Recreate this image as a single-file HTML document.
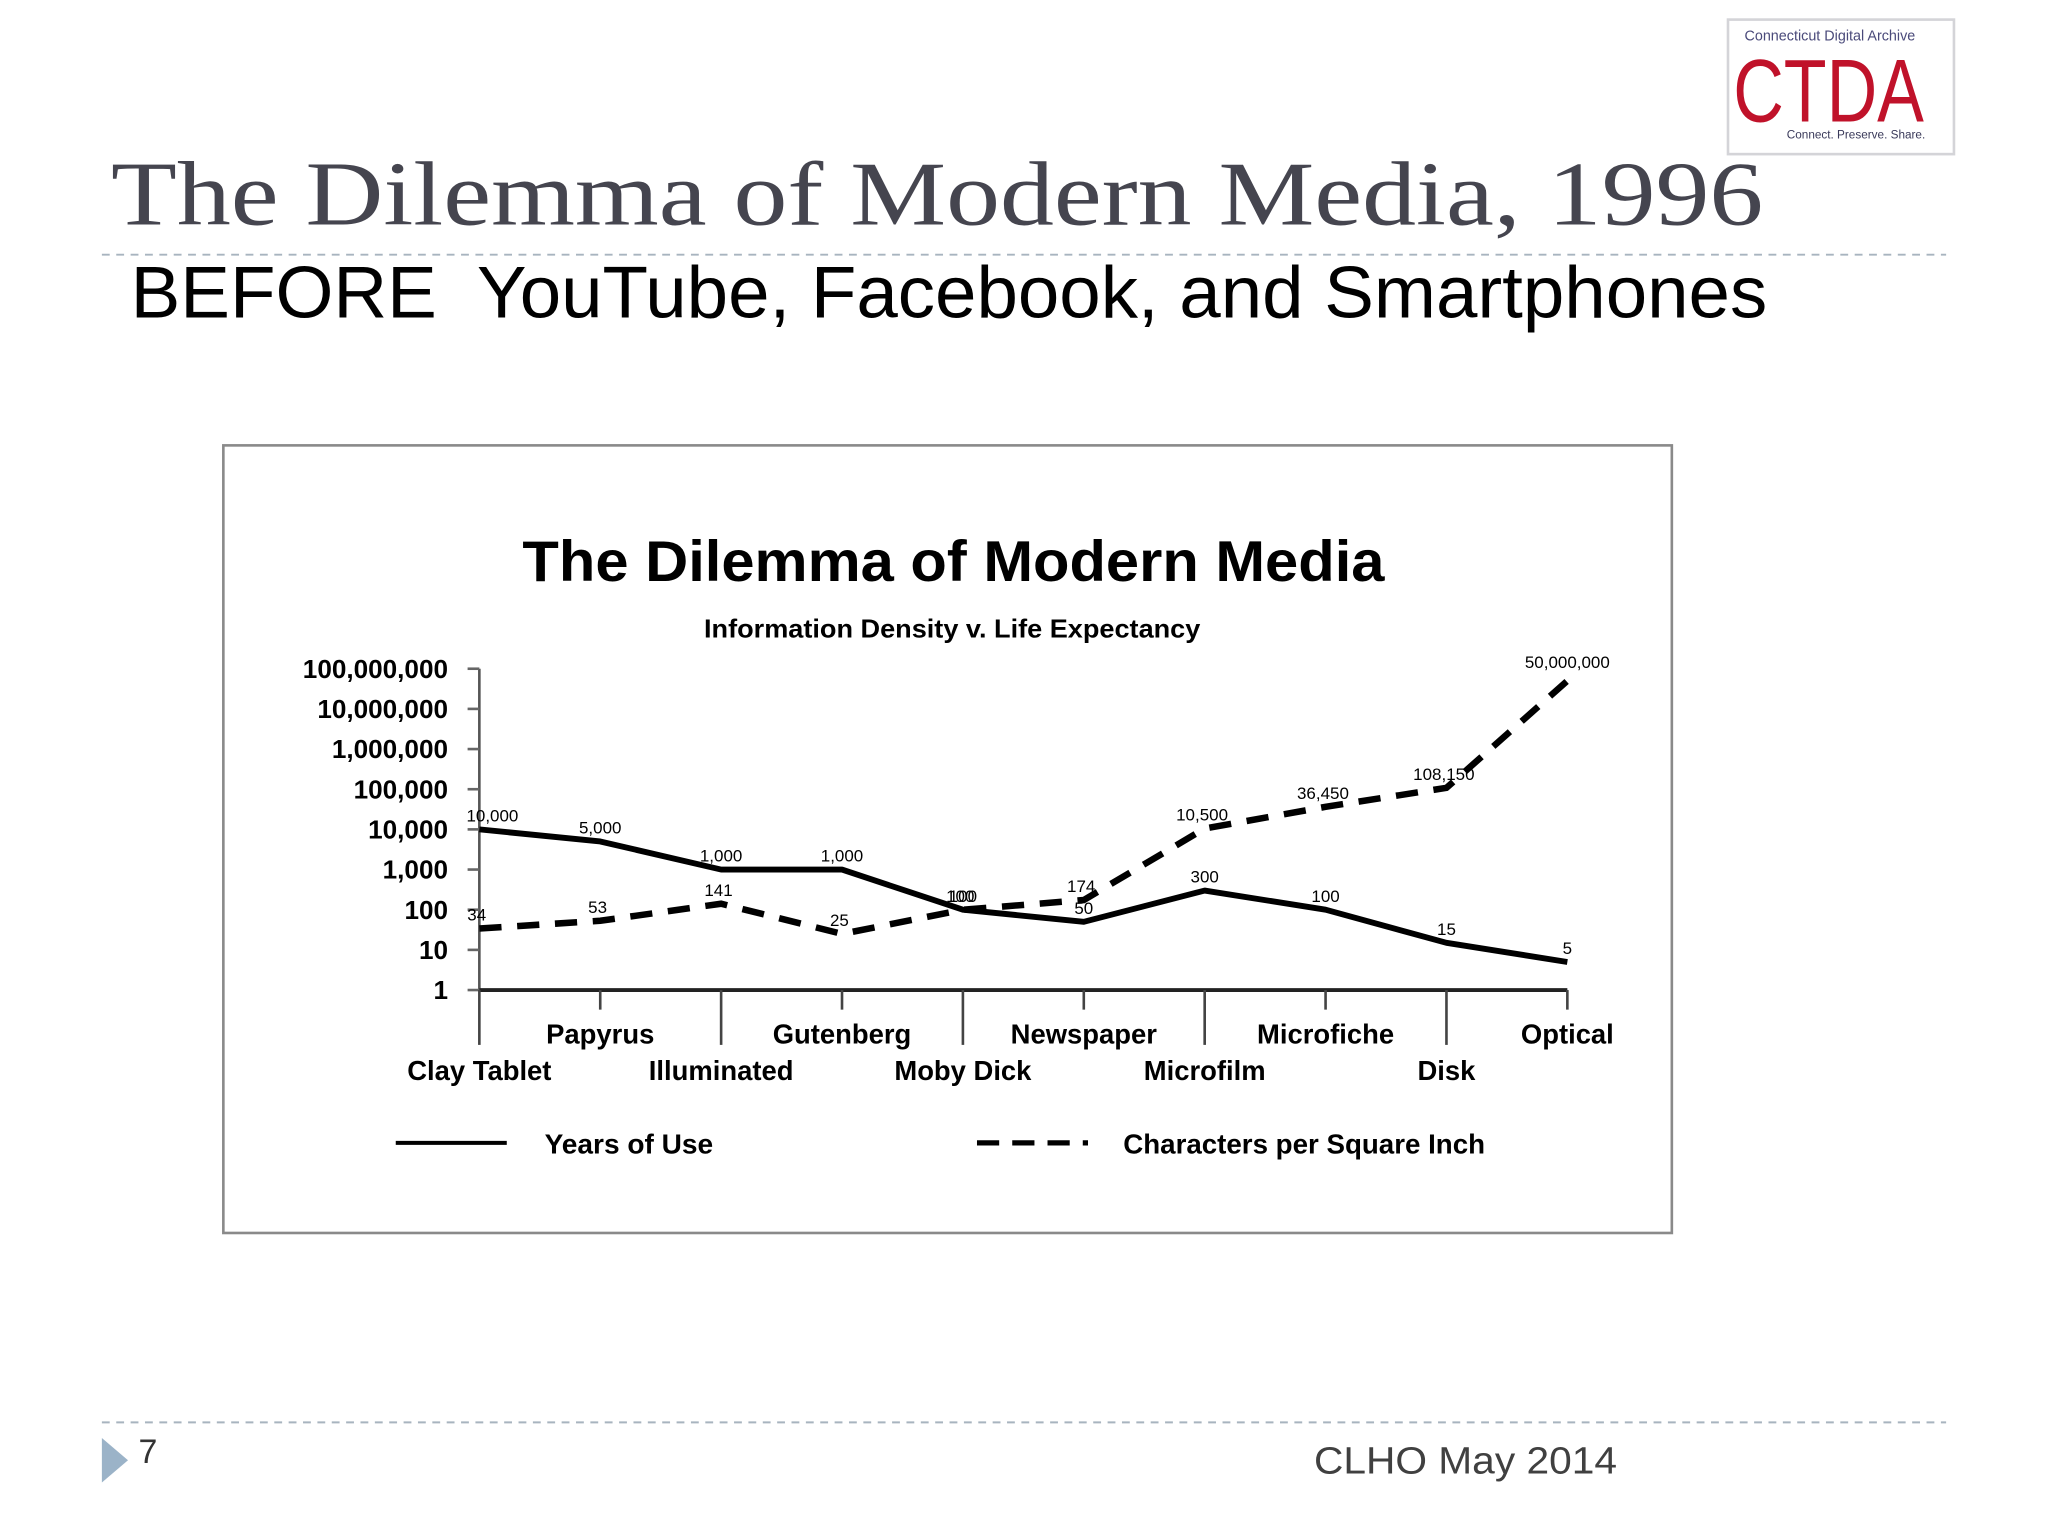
<!DOCTYPE html>
<html><head><meta charset="utf-8"><style>
html,body{margin:0;padding:0;background:#fff;}
svg{display:block;}
</style></head><body>
<svg id="slide" width="2048" height="1536" viewBox="0 0 1568 1176" xmlns="http://www.w3.org/2000/svg">
<rect width="1568" height="1176" fill="#fff"/>
<g>
  <rect x="1323" y="15" width="173" height="103" fill="#fff" stroke="#d4d4d8" stroke-width="2"/>
  <text x="1401" y="31" text-anchor="middle" font-family="Liberation Sans, sans-serif" font-size="11" fill="#4a4a7a">Connecticut Digital Archive</text>
  <text x="1400" y="93" text-anchor="middle" font-family="Liberation Sans, sans-serif" font-size="68" fill="#c0122a" textLength="146" lengthAdjust="spacingAndGlyphs">CTDA</text>
  <text x="1421" y="106" text-anchor="middle" font-family="Liberation Sans, sans-serif" font-size="9" fill="#3a3a5a">Connect. Preserve. Share.</text>
</g>
<text x="85" y="172" font-family="Liberation Serif, serif" font-size="70" fill="#45454f" textLength="1265" lengthAdjust="spacingAndGlyphs">The Dilemma of Modern Media, 1996</text>
<line x1="78" y1="195" x2="1490" y2="195" stroke="#a8b4bf" stroke-width="1.5" stroke-dasharray="6,5"/>
<text x="100" y="243" font-family="Liberation Sans, sans-serif" font-size="56" fill="#000" textLength="1253" lengthAdjust="spacingAndGlyphs" xml:space="preserve">BEFORE  YouTube, Facebook, and Smartphones</text>

<rect x="171" y="341" width="1109" height="603" fill="#fff" stroke="#8a8a8a" stroke-width="2"/>
<text x="730" y="445" text-anchor="middle" font-family="Liberation Sans, sans-serif" font-weight="bold" font-size="44" fill="#000" textLength="660" lengthAdjust="spacingAndGlyphs">The Dilemma of Modern Media</text>
<text x="729" y="488" text-anchor="middle" font-family="Liberation Sans, sans-serif" font-weight="bold" font-size="20" fill="#000" textLength="380" lengthAdjust="spacingAndGlyphs">Information Density v. Life Expectancy</text>
<g id="chart"></g>

<g font-family="Liberation Sans, sans-serif" font-weight="bold" font-size="21">
  <line x1="303" y1="875" x2="388" y2="875" stroke="#000" stroke-width="3"/>
  <text x="417" y="883" textLength="129" lengthAdjust="spacingAndGlyphs">Years of Use</text>
  <line x1="748" y1="875" x2="833" y2="875" stroke="#000" stroke-width="4" stroke-dasharray="17,10"/>
  <text x="860" y="883" textLength="277" lengthAdjust="spacingAndGlyphs">Characters per Square Inch</text>
</g>

<line x1="78" y1="1089" x2="1490" y2="1089" stroke="#a8b4bf" stroke-width="1.5" stroke-dasharray="6,5"/>
<polygon points="78,1101 98,1118 78,1135" fill="#9bb3c8"/>
<text x="106" y="1120" font-family="Liberation Sans, sans-serif" font-size="26" fill="#333">7</text>
<text x="1006" y="1128" font-family="Liberation Sans, sans-serif" font-size="29" fill="#404040" textLength="232" lengthAdjust="spacingAndGlyphs">CLHO  May 2014</text>
</svg>
<script>
const categories = ["Clay Tablet","Papyrus","Illuminated","Gutenberg","Moby Dick","Newspaper","Microfilm","Microfiche","Disk","Optical"];
const yearsOfUse = [10000,5000,1000,1000,100,50,300,100,15,5];
const yearsLabels = ["10,000","5,000","1,000","1,000","100","50","300","100","15","5"];
const charsPerInch = [34,53,141,25,100,174,10500,36450,108150,50000000];
const charsLabels = ["34","53","141","25","100","174","10,500","36,450","108,150","50,000,000"];
const yTickValues = [1,10,100,1000,10000,100000,1000000,10000000,100000000];
const yTickLabels = ["1","10","100","1,000","10,000","100,000","1,000,000","10,000,000","100,000,000"];

const NS = "http://www.w3.org/2000/svg";
const g = document.getElementById('chart');
const X0 = 367, X1 = 1200, Y0 = 758, Y1 = 512;
function xPos(i){ return X0 + (X1 - X0) * i / (categories.length - 1); }
function yPos(v){ return Y0 - (Y0 - Y1) * Math.log10(v) / 8; }
function mk(tag, attrs){ const e = document.createElementNS(NS, tag); for (const k in attrs) e.setAttribute(k, attrs[k]); g.appendChild(e); return e; }

const yAxis = mk('line', {x1:X0, y1:Y1, x2:X0, y2:Y0, stroke:'#555', 'stroke-width':2});


const xAxis = mk('line', {x1:X0, y1:Y0, x2:X1, y2:Y0, stroke:'#222', 'stroke-width':3});



yTickValues.forEach((v, i) => {
  const y = yPos(v);
  const t = mk('line', {x1:X0-9, y1:y, x2:X0, y2:y, stroke:'#666', 'stroke-width':2});
  
  
  const l = mk('text', {x:343, y:y+7, 'text-anchor':'end', 'font-family':'Liberation Sans, sans-serif', 'font-weight':'bold', 'font-size':20});
  l.textContent = yTickLabels[i];
  
  
});

categories.forEach((c, i) => {
  const x = xPos(i);
  const major = i % 2 === 0;
  const t = mk('line', {x1:x, y1:Y0, x2:x, y2: major ? 800 : 773, stroke:'#444', 'stroke-width':2});
  
  
  const l = mk('text', {x:x, y: major ? 827 : 799, 'text-anchor':'middle', 'font-family':'Liberation Sans, sans-serif', 'font-weight':'bold', 'font-size':21});
  l.textContent = c;
  
  
});

const solidPts = yearsOfUse.map((v, i) => xPos(i) + ',' + yPos(v)).join(' ');
const solid = mk('polyline', {points:solidPts, fill:'none', stroke:'#000', 'stroke-width':4.5, 'stroke-linejoin':'round'});


const dashPts = charsPerInch.map((v, i) => xPos(i) + ',' + yPos(v)).join(' ');
const dash = mk('polyline', {points:dashPts, fill:'none', stroke:'#000', 'stroke-width':5, 'stroke-dasharray':'17,12'});



yearsOfUse.forEach((v, i) => {
  const l = mk('text', {x:xPos(i)+(i===0?10:0), y:yPos(v)-6, 'text-anchor':'middle', 'font-family':'Liberation Sans, sans-serif', 'font-size':13});
  l.textContent = yearsLabels[i];
  
  
});
charsPerInch.forEach((v, i) => {
  const l = mk('text', {x:xPos(i)+(i===9?0:-2), y:yPos(v)-(i===9?10:6), 'text-anchor':'middle', 'font-family':'Liberation Sans, sans-serif', 'font-size':13});
  l.textContent = charsLabels[i];
  
  
});
</script>
</body></html>
